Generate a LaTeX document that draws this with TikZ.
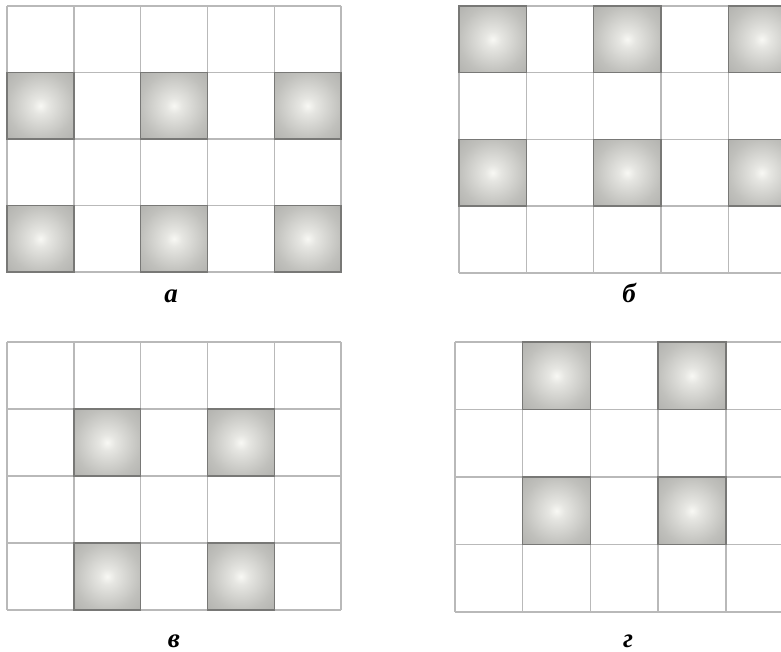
\documentclass[tikz,border=0pt]{standalone}
\usepackage{fontspec}
\setmainfont{Liberation Serif}
\definecolor{gridline}{RGB}{185,185,185}
\definecolor{cellborder}{RGB}{120,120,118}
\definecolor{shA}{RGB}{248,248,244}
\definecolor{shB}{RGB}{230,230,226}
\definecolor{shC}{RGB}{192,192,188}
\definecolor{shD}{RGB}{160,160,157}
\definecolor{shE}{RGB}{142,142,140}
\pgfdeclareradialshading{cellshade}{\pgfpoint{0bp}{0bp}}{color(0bp)=(shA); color(6bp)=(shB); color(25bp)=(shC); color(50bp)=(shD); color(72bp)=(shE)}
\newcommand\cellgrid[5]{%
  \foreach \i in {0,...,5} \draw[gridl] ({#1+\i*#3},#2) -- ({#1+\i*#3},{#2+4*#4});
  \foreach \j in {0,...,4} \draw[gridl] (#1,{#2+\j*#4}) -- ({#1+5*#3},{#2+\j*#4});
  \foreach \c/\r in {#5} \path[shadedcell] ({#1+\c*#3},{#2+\r*#4}) rectangle ++(#3,#4);
}
\begin{document}
\begin{tikzpicture}[x=1pt,y=-1pt,
  gridl/.style={draw=gridline, line width=1.4pt},
  shadedcell/.style={shading=cellshade, draw=cellborder, line width=1.4pt},
  lab/.style={font=\fontsize{27}{27}\selectfont\bfseries\itshape, inner sep=0pt, anchor=base}]
\useasboundingbox (0,0) rectangle (781,652);
\clip (0,0) rectangle (781,652);
\fill[white] (0,0) rectangle (781,652);
% a
\cellgrid{7}{6}{66.8}{66.5}{0/1,2/1,4/1,0/3,2/3,4/3}
% b
\cellgrid{459}{6}{67.3}{66.7}{0/0,2/0,4/0,0/2,2/2,4/2}
% v
\cellgrid{7}{342}{66.8}{67}{1/1,3/1,1/3,3/3}
% g
\cellgrid{455}{342}{67.7}{67.5}{1/0,3/0,1/2,3/2}
\node[lab] (la) at (171,302) {а};
\node[lab] (lb) at (629,302) {б};
\node[lab] (lv) at (174,647) {в};
\node[lab] (lg) at (628,647) {г};
\end{tikzpicture}
\end{document}
